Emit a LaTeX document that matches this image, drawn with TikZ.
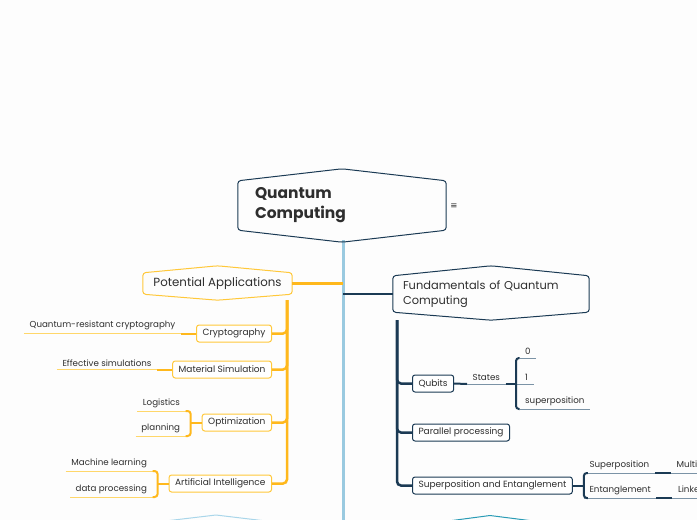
\documentclass[tikz,border=0pt]{standalone}
\usepackage{fontspec}
\setmainfont{Poppins}
\newfontfamily\symfont{DejaVu Sans}
\usetikzlibrary{positioning,calc}
\definecolor{Navy}{HTML}{1B3A54}
\definecolor{NavySoft}{HTML}{7B93A6}
\definecolor{Gold}{HTML}{FFB81C}
\definecolor{GoldLine}{HTML}{FFC83A}
\definecolor{GoldSoft}{HTML}{FFD76A}
\definecolor{Sky}{HTML}{9ACAE0}
\definecolor{SkyLine}{HTML}{A9D6EA}
\definecolor{Teal}{HTML}{2A9CB6}
\definecolor{Ink}{HTML}{2E2E2E}
\definecolor{Paper}{HTML}{FDFDFD}
% hexagonal frame round a node: node, colour, top rise, bottom drop
\newcommand{\hexframe}[4]{%
  \draw[#2,line width=1pt,rounded corners=3pt] (#1.north west) -- ([yshift=#3]#1.north) -- (#1.north east)
    -- (#1.south east) -- ([yshift=-#4]#1.south) -- (#1.south west) -- cycle;}

\begin{document}
\begin{tikzpicture}[x=1pt,y=-1pt,font=\fontsize{8.7}{10}\selectfont,text=Ink,node distance=15pt]
  \tikzstyle{box}=[draw=GoldLine,line width=1pt,rounded corners=2.5pt,fill=white,minimum height=17pt,inner xsep=6pt,inner ysep=0pt,font=\fontsize{9}{10}\selectfont]
  \tikzstyle{nbox}=[box,draw=Navy]
  \tikzstyle{leaf}=[inner xsep=5.5pt,inner ysep=3pt,anchor=south east]
  \tikzstyle{nleaf}=[leaf,anchor=south west]
  \tikzstyle{soft}=[GoldSoft,line width=0.9pt]
  \tikzstyle{nsoft}=[NavySoft,line width=0.9pt]
  \tikzstyle{stub}=[Gold,line width=2pt]
  \tikzstyle{nstub}=[Navy,line width=2pt]
  \tikzstyle{trunk}=[Gold,line width=2.5pt,rounded corners=4pt]
  \tikzstyle{ntrunk}=[Navy,line width=2.5pt,rounded corners=4pt]
  \tikzstyle{brace}=[Gold,line width=2pt,rounded corners=3pt]
  \tikzstyle{nbrace}=[Navy,line width=2pt,rounded corners=3pt]
  \useasboundingbox[fill=Paper] (0,0) rectangle (697,520);

  % spine
  \coordinate (spine) at (343,240);
  \draw[Sky,line width=3pt] (spine) -- (343,530);

  % root
  \node[minimum width=208pt,minimum height=49pt,inner xsep=17pt,text width=174pt,align=left,
        font=\fontsize{15.5}{20}\selectfont\bfseries] (root) at (342,205.5) {Quantum\\Computing};
  \hexframe{root}{Navy}{12pt}{12pt}
  \node[font=\symfont\fontsize{8.5}{9}\selectfont] (menu) at (454,206.5) {≡};

  % potential applications
  \node[minimum width=149pt,minimum height=21pt,inner sep=0pt,font=\fontsize{11.8}{13}\selectfont] (apps) at (217.5,283.5) {Potential Applications};
  \hexframe{apps}{GoldLine}{7pt}{6pt}
  \draw[Gold,line width=2.5pt] (apps.east) -- (apps.east -| spine);
  \coordinate (ltrunk) at (287,300);

  \node[box,anchor=east] (crypto) at (272,333.5) {Cryptography};
  \node[box,anchor=east] (matsim) at (272,369.5) {Material Simulation};
  \node[box,anchor=east] (optim)  at (272,422.5) {Optimization};
  \node[box,anchor=east] (ai)     at (272,483.5) {Artificial Intelligence};
  \foreach \n in {crypto,matsim,optim,ai}
    \draw[trunk] (ltrunk) |- (\n.east);

  \node[leaf,left=15pt of crypto.west,anchor=south east] (qrc) {Quantum-resistant cryptography};
  \draw[soft] (qrc.south west) -- (qrc.south east);
  \draw[stub] (qrc.south east) -- (crypto.west);
  \node[leaf,left=15pt of matsim.west,anchor=south east] (effsim) {Effective simulations};
  \draw[soft] (effsim.south west) -- (effsim.south east);
  \draw[stub] (effsim.south east) -- (matsim.west);

  \coordinate[left=11pt of optim.west] (optB);
  \node[leaf] (logi) at ([xshift=-5pt]optB |- 0,411) {Logistics};
  \node[leaf] (plan) at ([xshift=-5pt]optB |- 0,436) {planning};
  \draw[soft] (logi.south west) -- (logi.south east);
  \draw[soft] (plan.south west) -- (plan.south east);
  \draw[brace] (logi.south east) -| (optB) |- (plan.south east);
  \draw[stub] (optB) -- (optim.west);

  \coordinate[left=11pt of ai.west] (aiB);
  \node[leaf] (mlearn) at ([xshift=-5pt]aiB |- 0,471) {Machine learning};
  \node[leaf] (dproc) at ([xshift=-5pt]aiB |- 0,497) {data processing};
  \draw[soft] (mlearn.south west) -- (mlearn.south east);
  \draw[soft] (dproc.south west) -- (dproc.south east);
  \draw[brace] (mlearn.south east) -| (aiB) |- (dproc.south east);
  \draw[stub] (aiB) -- (ai.west);

  % fundamentals
  \node[minimum width=196pt,minimum height=36pt,inner xsep=10pt,text width=176pt,align=left,
        font=\fontsize{11.4}{15}\selectfont] (fund) at (491,294) {Fundamentals of Quantum\\Computing};
  \hexframe{fund}{Navy}{10pt}{8pt}
  \draw[Navy,line width=2.5pt] (fund.west -| spine) -- (fund.west);
  \coordinate (rtrunk) at (397,320);

  \node[nbox,anchor=west] (qubits) at (412,383.5) {Qubits};
  \node[nbox,anchor=west] (par)    at (412,432.5) {Parallel processing};
  \node[nbox,anchor=west] (supent) at (412,485.5) {Superposition and Entanglement};
  \foreach \n in {qubits,par,supent}
    \draw[ntrunk] (rtrunk) |- (\n.west);

  \node[nleaf] (states) at (467,384) {States};
  \draw[nstub] (qubits.east) -- (states.south west);
  \draw[nsoft] (states.south west) -- (states.south east);
  \coordinate (stB) at (516,384);
  \draw[nstub] (states.south east) -- (stB);
  \node[nleaf] (zero) at (519.5,358) {0};
  \node[nleaf] (one)  at (519.5,384) {1};
  \node[nleaf] (spos) at (519.5,409) {superposition};
  \draw[nsoft] (stB) -- (one.south east);
  \draw[nsoft] (zero.south west) -- (zero.south east);
  \draw[nsoft] (spos.south west) -- (spos.south east);
  \draw[nbrace] (zero.south west) -| (stB) |- (spos.south west);

  \coordinate[right=11pt of supent.east] (seB);
  \node[nleaf] (sup) at (seB |- 0,473) {Superposition};
  \node[nleaf] (ent) at (seB |- 0,498) {Entanglement};
  \draw[nsoft] (sup.south west) -- (sup.south east);
  \draw[nsoft] (ent.south west) -- (ent.south east);
  \draw[nbrace] ([xshift=4pt]sup.south west) -| (seB) |- ([xshift=4pt]ent.south west);
  \draw[nstub] (supent.east) -- (seB);
  \node[nleaf] (multi) at ([xshift=16pt]sup.south east) {Multiple states};
  \node[nleaf] (linked) at ([xshift=16pt]ent.south east) {Linked qubits};
  \draw[nstub] (sup.south east) -- (multi.south west);
  \draw[nstub] (ent.south east) -- (linked.south west);
  \draw[nsoft] (multi.south west) -- (multi.south east);
  \draw[nsoft] (linked.south west) -- (linked.south east);

  % next topics, cut by the lower edge
  \draw[SkyLine,line width=1pt] (140,524) -- (216,515) -- (291,524);
  \draw[Teal,line width=1pt] (437,522.5) -- (490,515.5) -- (545,522.5);
\end{tikzpicture}
\end{document}
